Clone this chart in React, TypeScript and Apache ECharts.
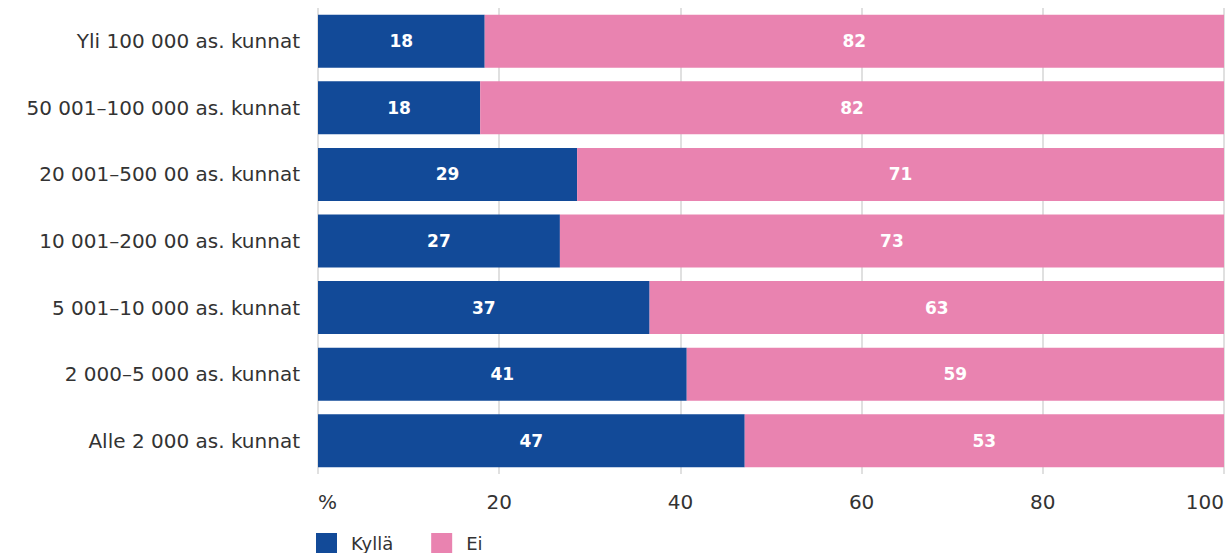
import React, { useEffect, useRef } from "react";
import * as echarts from "echarts";

const categories = [
  "Yli 100 000 as. kunnat",
  "50 001–100 000 as. kunnat",
  "20 001–500 00 as. kunnat",
  "10 001–200 00 as. kunnat",
  "5 001–10 000 as. kunnat",
  "2 000–5 000 as. kunnat",
  "Alle 2 000 as. kunnat",
];
const kylla = [18.4, 17.9, 28.6, 26.7, 36.6, 40.7, 47.1];
const ei = [81.6, 82.1, 71.4, 73.3, 63.4, 59.3, 52.9];
const seriesNames = ["Kyllä", "Ei"];
const FONT = "DejaVu Sans";

export default function App() {
  const ref = useRef<HTMLDivElement>(null);
  useEffect(() => {
    const chart = echarts.init(ref.current!, null, { renderer: "svg" });
    const label = {
      show: true,
      position: "inside",
      color: "#fff",
      fontWeight: "bold",
      fontSize: 17,
      fontFamily: FONT,
      formatter: (p: any) => String(Math.round(p.value)),
    };
    chart.setOption({
      animation: false,
      textStyle: { fontFamily: FONT },
      grid: { left: 318, right: 7, top: 8, bottom: 79 },
      legend: {
        left: 311,
        top: 528,
        itemWidth: 21,
        itemHeight: 21,
        itemGap: 38,
        icon: "rect",
        textStyle: { fontSize: 18, color: "#333", fontFamily: FONT, padding: [0, 0, 0, 9] },
        data: seriesNames,
      },
      xAxis: {
        type: "value",
        min: 0,
        max: 100,
        interval: 20,
        axisLine: { show: false },
        axisTick: { show: false },
        splitLine: { show: true, lineStyle: { color: "#e0e0e0", width: 2 } },
        axisLabel: {
          color: "#333",
          fontSize: 20,
          margin: 18,
          fontFamily: FONT,
          alignMinLabel: "left",
          alignMaxLabel: "right",
          formatter: (v: number) => (v === 0 ? "%" : String(v)),
        },
      },
      yAxis: {
        type: "category",
        data: categories,
        inverse: true,
        axisLine: { show: false },
        axisTick: { show: false },
        axisLabel: { color: "#333", fontSize: 20, margin: 18, fontFamily: FONT },
      },
      series: [
        {
          name: seriesNames[0],
          type: "bar",
          stack: "a",
          data: kylla,
          barWidth: 53,
          itemStyle: { color: "#124a98" },
          label,
        },
        {
          name: seriesNames[1],
          type: "bar",
          stack: "a",
          data: ei,
          barWidth: 53,
          itemStyle: { color: "#e983b0" },
          label,
        },
      ],
    });
    return () => chart.dispose();
  }, []);
  return <div ref={ref} style={{ width: 1231, height: 553, position: "absolute", left: 0, top: 0 }} />;
}
